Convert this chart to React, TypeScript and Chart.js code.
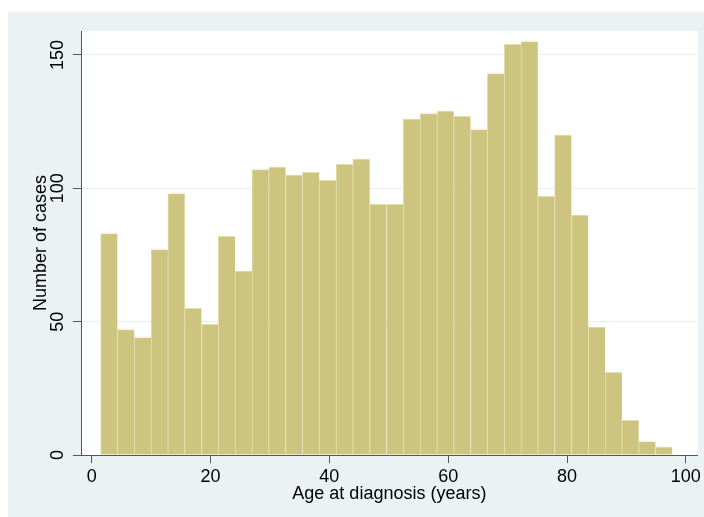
import { useEffect, useRef } from "react";
import { Chart, registerables } from "chart.js";

Chart.register(...registerables);

// Histogram bins (age at diagnosis, years)
const binStart = 1.5;
const binWidth = 2.83;
const counts = [
  83, 47, 44, 77, 98, 55, 49, 82, 69, 107, 108, 105, 106, 103, 109, 111, 94,
  94, 126, 128, 129, 127, 122, 143, 154, 155, 97, 120, 90, 48, 31, 13, 5, 3,
];
const xTicks = [0, 20, 40, 60, 80, 100];
const yTicks = [0, 50, 100, 150];
const xTitle = "Age at diagnosis (years)";
const yTitle = "Number of cases";

const FONT = { family: "'Liberation Sans', Arial, sans-serif", size: 18 };
const AXIS = "#555555";
const GRID = "#E6EEF0";

export default function App() {
  const ref = useRef<HTMLCanvasElement | null>(null);

  useEffect(() => {
    if (!ref.current) return;
    const data = counts.map((c, i) => ({ x: binStart + binWidth * (i + 0.5), y: c }));

    const plotBg = {
      id: "plotBg",
      beforeDraw(chart: any) {
        const { ctx, chartArea } = chart;
        ctx.save();
        ctx.fillStyle = "#FFFFFF";
        ctx.fillRect(chartArea.left, chartArea.top, chartArea.right - chartArea.left, chartArea.bottom - chartArea.top);
        ctx.restore();
      },
    };

    const chart = new Chart(ref.current, {
      type: "bar",
      data: {
        datasets: [
          {
            data: data as any,
            backgroundColor: "#CCC47F",
            borderColor: "#E3DEAE",
            borderWidth: { left: 1, top: 1, right: 0, bottom: 0 } as any,
            borderSkipped: false,
            barPercentage: 1,
            categoryPercentage: 1,
          },
        ],
      },
      options: {
        animation: false,
        responsive: false,
        maintainAspectRatio: false,
        layout: { padding: { top: 19, right: 6, left: 0, bottom: 0 } },
        plugins: { legend: { display: false }, tooltip: { enabled: false } },
        scales: {
          x: {
            type: "linear",
            min: -1.8,
            max: 102,
            offset: false,
            afterBuildTicks: (s: any) => {
              s.ticks = xTicks.map((v) => ({ value: v }));
            },
            afterFit: (s: any) => {
              s.height = 62;
            },
            grid: { drawOnChartArea: false, offset: false, tickLength: 8, tickColor: AXIS },
            border: { color: AXIS, width: 1 },
            ticks: { padding: 3, color: "#000", font: FONT, autoSkip: false, maxRotation: 0 },
            title: { display: true, text: xTitle, color: "#000", font: FONT, padding: { top: 0, bottom: 12 } },
          },
          y: {
            type: "linear",
            min: 0,
            max: 159,
            afterBuildTicks: (s: any) => {
              s.ticks = yTicks.map((v) => ({ value: v }));
            },
            afterFit: (s: any) => {
              s.width = 73;
            },
            grid: {
              color: (c: any) => (c.tick && c.tick.value === 0 ? "rgba(0,0,0,0)" : GRID),
              tickColor: AXIS,
              tickLength: 8,
              lineWidth: 1,
            },
            border: { color: AXIS, width: 1 },
            ticks: {
              padding: 0,
              color: "#000",
              font: FONT,
              minRotation: 90,
              maxRotation: 90,
              crossAlign: "center",
              autoSkip: false,
            },
            title: { display: true, text: yTitle, color: "#000", font: FONT, padding: { top: 22, bottom: 0 } },
          },
        },
      },
      plugins: [plotBg],
    });
    return () => chart.destroy();
  }, []);

  return (
    <div style={{ position: "absolute", left: 8, top: 12, width: 696, height: 505, background: "#EAF2F3" }}>
      <canvas ref={ref} width={696} height={505} style={{ display: "block", width: 696, height: 505 }} />
    </div>
  );
}
